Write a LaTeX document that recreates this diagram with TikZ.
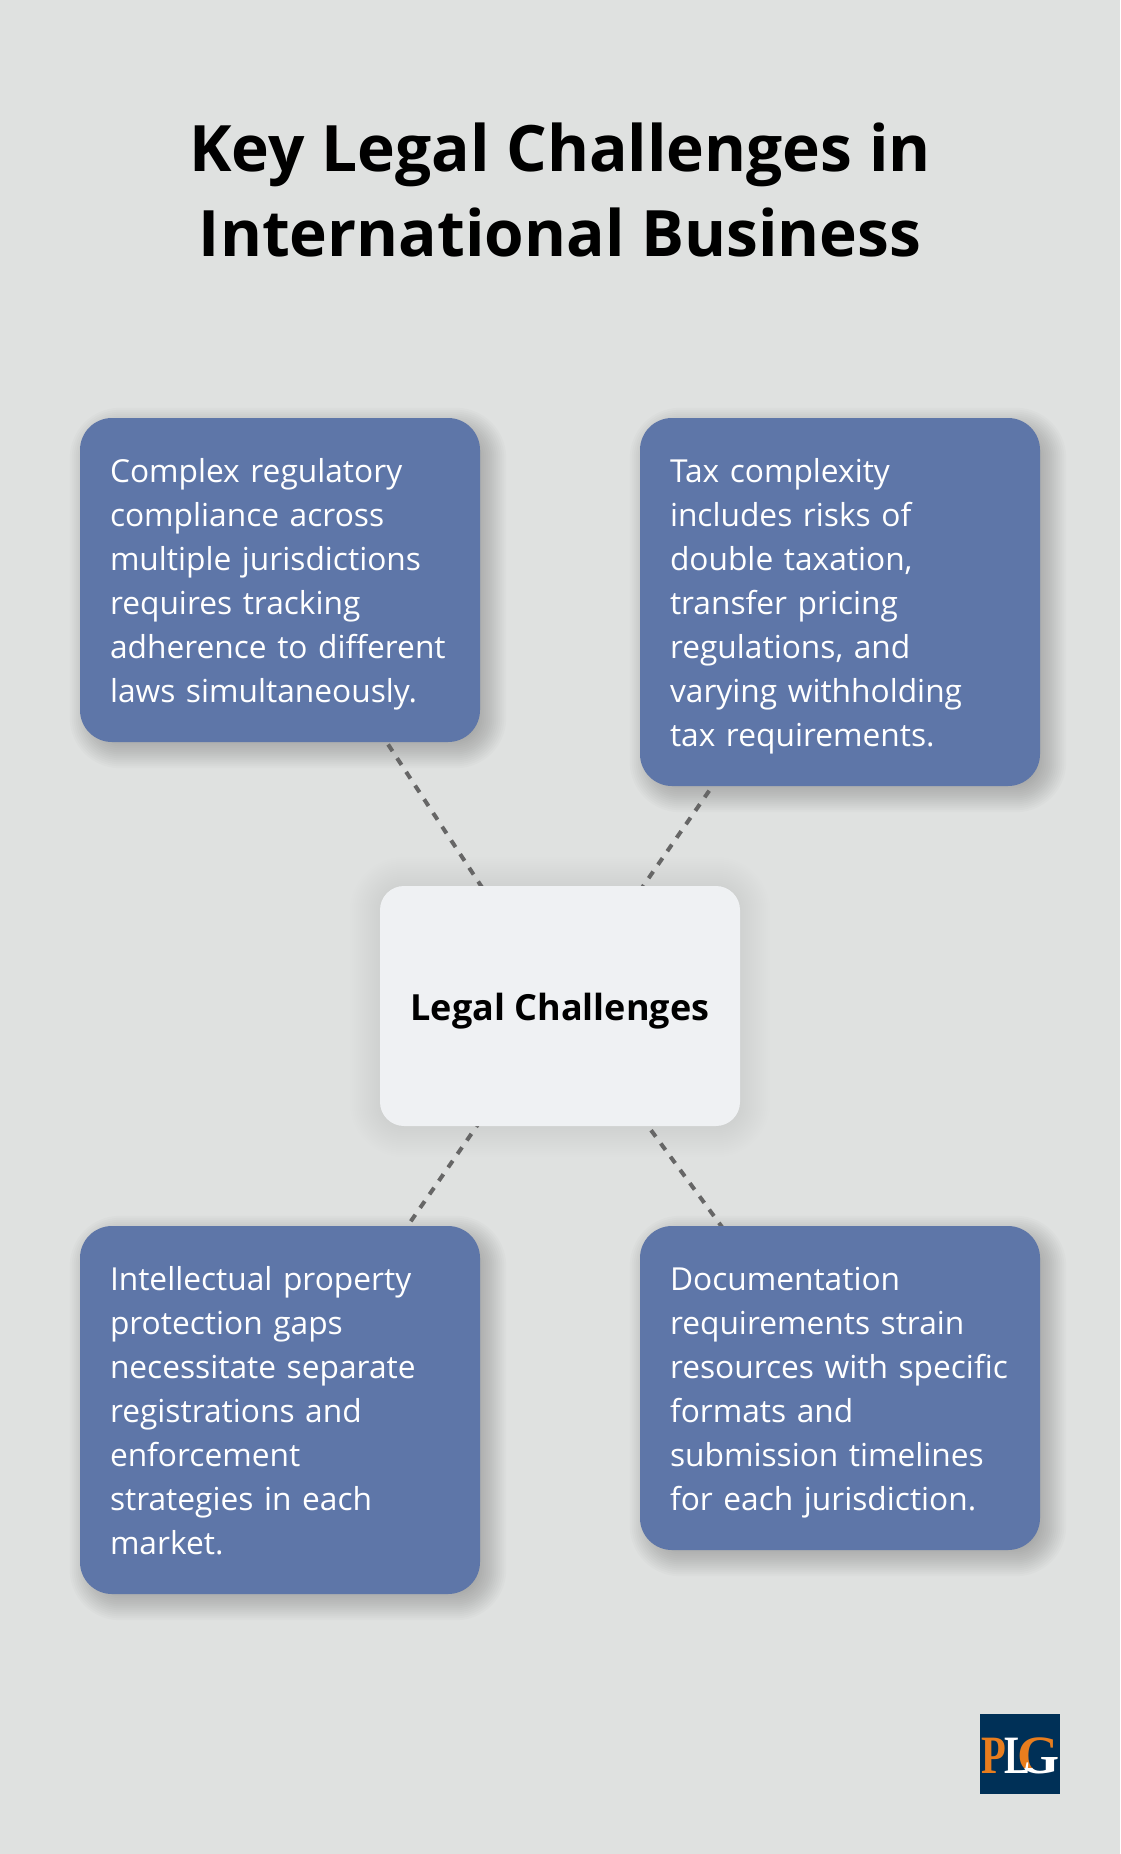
\documentclass[tikz,border=0pt]{standalone}
\usepackage{fontspec}
\setmainfont{Open Sans}
\newfontfamily\logofont{Liberation Serif}
\usetikzlibrary{calc}
\definecolor{pagebg}{RGB}{223,225,224}
\definecolor{bluebox}{RGB}{94,118,168}
\definecolor{hubfill}{RGB}{239,241,243}
\definecolor{linegray}{RGB}{102,102,102}
\definecolor{logonavy}{RGB}{0,48,87}
\definecolor{logoorange}{RGB}{232,125,30}
\pgfdeclarelayer{shadowlayer}
\pgfdeclarelayer{linelayer}
\pgfsetlayers{shadowlayer,linelayer,main}
\tikzset{
  x=1pt,y=-1pt,
  bluecard/.style={fill=bluebox,text=white,rounded corners=32pt,minimum width=400pt,
    text width=340pt,align=left,inner xsep=30pt,inner ysep=0pt,
    font=\fontsize{31.7}{44}\selectfont,
    execute at begin node={\hyphenpenalty=10000\relax\rule{0pt}{34pt}},
    execute at end node={\rule[-10pt]{0pt}{10pt}}},
  hubcard/.style={fill=hubfill,text=black,rounded corners=24pt,minimum width=360pt,minimum height=240pt,
    inner sep=0pt,font=\fontsize{36}{44}\selectfont\bfseries,
    execute at begin node={\rule[-12pt]{0pt}{52pt}}},
  titletext/.style={text=black,align=center,inner sep=0pt,font=\fontsize{64}{85}\selectfont\bfseries},
  spoke/.style={draw=linegray,line width=4pt,dash pattern=on 8pt off 8.4pt},
  logoletter/.style={inner sep=0pt,anchor=base west,font=\logofont\bfseries\fontsize{54}{54}\selectfont},
}
% name, dx, dy, half blur, radius, opacity per step
\newcommand{\softshadow}[6]{%
  \begin{pgfonlayer}{shadowlayer}
  \pgfmathtruncatemacro{\ssecond}{-#4+2}
  \foreach \dd in {-#4,\ssecond,...,#4}{
    \pgfmathsetmacro{\rr}{max(#5+\dd,1)}
    \fill[black,opacity=#6,rounded corners=\rr pt]
      ($(#1.south west)+(#2-\dd,#3+\dd)$) rectangle ($(#1.north east)+(#2+\dd,#3-\dd)$);
  }
  \end{pgfonlayer}}
\begin{document}
\begin{tikzpicture}
\begin{pgfonlayer}{shadowlayer}
\fill[pagebg] (0,0) rectangle (1120,1854);
\end{pgfonlayer}
\useasboundingbox (0,0) rectangle (1120,1854);

\node[titletext] (title) at (560,189.5) {Key Legal Challenges in\\International Business};

\node[hubcard] (hub) at (560,1006) {Legal Challenges};

\node[bluecard,minimum height=324pt] (compliance) at (280,580)
 {Complex regulatory\\compliance across\\multiple jurisdictions\\requires tracking\\adherence to different\\laws simultaneously.};
\node[bluecard,minimum height=368pt] (tax) at (840,602)
 {Tax complexity\\includes risks of\\double taxation,\\transfer pricing\\regulations, and\\varying withholding\\tax requirements.};
\node[bluecard,minimum height=368pt] (ip) at (280,1410)
 {Intellectual property\\protection gaps\\necessitate separate\\registrations and\\enforcement\\strategies in each\\market.};
\node[bluecard,minimum height=324pt] (docs) at (840,1388)
 {Documentation\\requirements strain\\resources with specific\\formats and\\submission timelines\\for each jurisdiction.};

\softshadow{compliance}{8}{8}{18}{32}{0.015}
\softshadow{tax}{8}{8}{18}{32}{0.015}
\softshadow{ip}{8}{8}{18}{32}{0.015}
\softshadow{docs}{8}{8}{18}{32}{0.015}
\softshadow{hub}{0}{1}{30}{24}{0.005}

\begin{pgfonlayer}{linelayer}
\draw[spoke] (compliance.center) -- (hub.center);
\draw[spoke] (tax.center) -- (hub.center);
\draw[spoke] (ip.center) -- (hub.center);
\draw[spoke] (docs.center) -- (hub.center);
\end{pgfonlayer}

% logo
\node[fill=logonavy,minimum size=80pt,inner sep=0pt] (logo) at (1020,1754) {};
\begin{scope}
\clip (1012,1730) -- (1062,1730) -- (1062,1757) -- (1032,1757) -- (1032,1768) -- (1012,1768) -- cycle;
\node[logoletter,text=logoorange] (logoGa) at (1017,1773) {G};
\end{scope}
\begin{scope}
\clip (1032,1757) -- (1062,1757) -- (1062,1780) -- (1012,1780) -- (1012,1768) -- (1032,1768) -- cycle;
\node[logoletter,text=white] (logoGb) at (1017,1773) {G};
\end{scope}
\node[logoletter,text=logoorange] (logoP) at (981,1773) {\scalebox{.75}[1]{P}};
\node[logoletter,text=white] (logoL) at (1004,1773) {\scalebox{.72}[1]{L}};
\end{tikzpicture}
\end{document}
